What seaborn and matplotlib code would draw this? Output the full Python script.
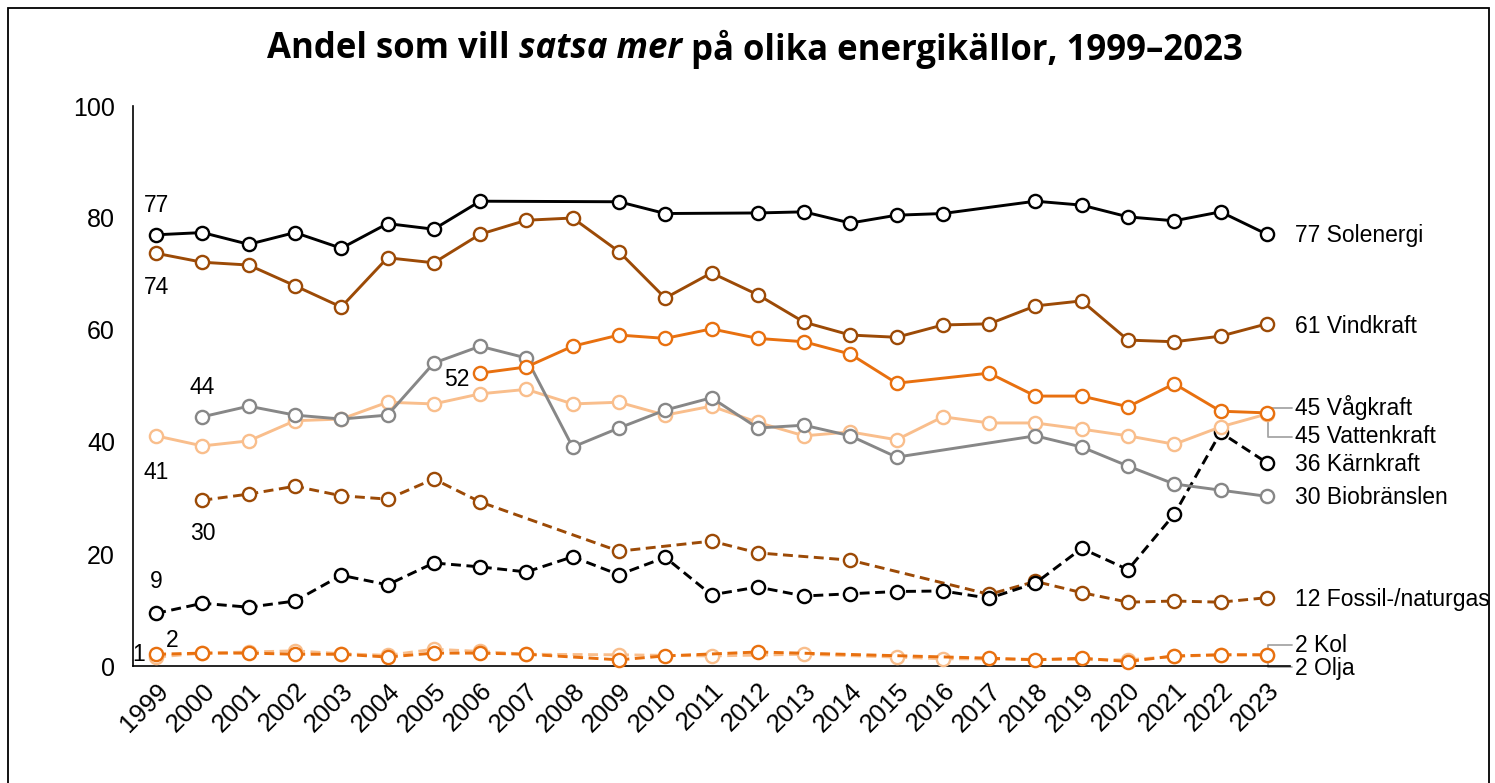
import numpy as np
import pandas as pd
import matplotlib
matplotlib.use("Agg")
import matplotlib.pyplot as plt
from matplotlib.patches import Rectangle
import seaborn as sns

nan = np.nan
years = list(range(1999, 2024))

solenergi = [77.0, 77.4, 75.3, 77.4, 74.6, 79.0, 78.0, 83.0, nan, nan, 82.9, 80.8, nan,
             80.9, 81.1, 79.1, 80.5, 80.8, nan, 83.0, 82.3, 80.2, 79.5, 81.1, 77.1]
vindkraft = [73.7, 72.1, 71.6, 67.9, 64.1, 72.9, 72.0, 77.1, 79.6, 80.0, 74.0, 65.7, 70.2,
             66.3, 61.4, 59.1, 58.7, 60.9, 61.1, 64.3, 65.2, 58.2, 57.9, 58.9, 61.1]
vagkraft = [nan, nan, nan, nan, nan, nan, nan, 52.3, 53.4, 57.1, 59.1, 58.5, 60.2,
            58.5, 57.9, 55.7, 50.5, nan, 52.3, 48.2, 48.2, 46.3, 50.4, 45.5, 45.2]
vattenkraft = [41.1, 39.3, 40.2, 43.8, 44.1, 47.1, 46.8, 48.6, 49.4, 46.8, 47.1, 44.8, 46.4,
               43.5, 41.1, 41.8, 40.4, 44.5, 43.4, 43.4, 42.3, 41.1, 39.6, 42.7, 45.0]
biobranslen = [nan, 44.5, 46.4, 44.8, 44.1, 44.8, 54.1, 57.1, 55.0, 39.1, 42.5, 45.7, 47.9,
               42.5, 43.0, 41.1, 37.3, nan, nan, 41.1, 39.1, 35.7, 32.5, 31.4, 30.3]
karnkraft = [9.4, 11.2, 10.5, 11.6, 16.2, 14.5, 18.4, 17.7, 16.8, 19.5, 16.3, 19.4, 12.7,
             14.1, 12.5, 12.9, 13.3, 13.4, 12.1, 14.8, 21.0, 17.2, 27.1, 41.7, 36.3]
fossil = [nan, 29.6, 30.7, 32.1, 30.4, 29.8, 33.4, 29.3, nan, nan, 20.5, nan, 22.3,
          20.2, nan, 18.9, nan, nan, 12.8, 15.1, 13.1, 11.4, 11.6, 11.4, 12.2]
kol = [2.1, 2.3, 2.3, 2.1, 2.1, 1.6, 2.3, 2.3, 2.1, nan, 1.1, 1.8, nan,
       2.5, nan, nan, nan, nan, 1.4, 1.1, 1.4, 0.8, 1.8, 2.0, 2.0]
olja = [1.6, 2.3, 2.5, 2.7, 2.2, 1.9, 3.0, 2.6, 2.1, nan, 2.0, nan, 1.8,
        nan, 2.1, nan, 1.6, 1.3, nan, nan, nan, 1.1, 1.7, 2.0, 2.0]

names = ["Solenergi", "Vindkraft", "Vågkraft", "Vattenkraft", "Kärnkraft",
         "Biobränslen", "Fossil-/naturgas", "Kol", "Olja"]
end_labels = ["77 Solenergi", "61 Vindkraft", "45 Vågkraft", "45 Vattenkraft",
              "36 Kärnkraft", "30 Biobränslen", "12 Fossil-/naturgas", "2 Kol", "2 Olja"]
start_labels = ["77", "74", "52", "41", "9", "44", "30", "2", "1"]

BLACK = "#000000"
BROWN = "#9C4A06"
ORANGE = "#E8700F"
PEACH = "#F9BE8C"
GRAY = "#878787"

sns.set_style("white")
plt.rcParams["font.family"] = ["Liberation Sans", "DejaVu Sans"]
plt.rcParams["text.color"] = "black"

fig = plt.figure(figsize=(14.95, 7.83), dpi=100)
ax = fig.add_axes([133 / 1495, 1 - 666 / 783, (1290 - 133) / 1495, (666 - 106) / 783])

series = [
    # (values, color, dashed, zorder)
    (olja, PEACH, True, 3),
    (kol, ORANGE, True, 4),
    (fossil, BROWN, True, 5),
    (karnkraft, BLACK, True, 6),
    (vattenkraft, PEACH, False, 7),
    (biobranslen, GRAY, False, 8),
    (vagkraft, ORANGE, False, 9),
    (vindkraft, BROWN, False, 10),
    (solenergi, BLACK, False, 11),
]

for vals, col, dashed, z in series:
    df = pd.DataFrame({"year": years, "value": vals}).dropna()
    sns.lineplot(data=df, x="year", y="value", ax=ax, color=col,
                 linestyle=(0, (3.4, 1.9)) if dashed else "-",
                 linewidth=2.1, marker="o", markersize=9.5,
                 markerfacecolor="white", markeredgecolor=col,
                 markeredgewidth=1.7, zorder=z, clip_on=False)

ax.set_xlim(1998.5, 2023.5)
ax.set_ylim(0, 100)
ax.set_xticks(years)
ax.set_xticklabels([str(y) for y in years], rotation=45, ha="right",
                   rotation_mode="anchor", fontsize=18.5)
ax.set_yticks(range(0, 101, 20))
ax.set_yticklabels([str(v) for v in range(0, 101, 20)], fontsize=18)
ax.set_xlabel("")
ax.set_ylabel("")
for s in ["top", "right"]:
    ax.spines[s].set_visible(False)
for s in ["left", "bottom"]:
    ax.spines[s].set_color("black")
    ax.spines[s].set_linewidth(1.2)
ax.tick_params(axis="both", direction="out", length=5, width=1.2, color="black",
               labelcolor="black")
ax.tick_params(axis="x", pad=4)
ax.tick_params(axis="y", pad=8)

# start labels
start_pos = [(1999, 82.3), (1999, 67.6), (2005.5, 51.1), (1999, 34.6), (1999, 15.0),
             (2000, 49.8), (2000, 23.6), (1999.35, 4.6), (1998.62, 2.0)]
for txt, (x, y) in zip(start_labels, start_pos):
    ax.text(x, y, txt, ha="center", va="center", fontsize=16.5, color="black",
            clip_on=False, zorder=20)

# end labels
end_y = [76.8, 60.7, 46.1, 40.9, 35.9, 30.0, 11.8, 3.7, -0.4]
for txt, y in zip(end_labels, end_y):
    ax.text(2023.6, y, txt, ha="left", va="center", fontsize=16.5, color="black",
            clip_on=False, zorder=20)

# bracket connectors
for ytop, ybot in [(46.1, 40.9), (3.7, -0.1)]:
    ax.plot([2023.55, 2023.03, 2023.03, 2023.55], [ytop, ytop, ybot, ybot],
            color="#A6A6A6", linewidth=1.3, clip_on=False, zorder=2)

# title pieces
renderer = fig.canvas.get_renderer()
parts = [("Andel som vill ", "normal"), ("satsa mer", "italic"),
         (" på olika energikällor, 1999–2023", "normal")]
ty = 1 - 49 / 783
tmp = []
for s, st in parts:
    t = fig.text(0, ty, s, fontsize=25, fontweight="bold", style=st, color="black",
                 family=["Open Sans", "DejaVu Sans"], va="center", ha="left")
    tmp.append(t)
widths = [t.get_window_extent(renderer).width for t in tmp]
total = sum(widths)
x0 = 755 - total / 2
for t, w in zip(tmp, widths):
    t.set_x(x0 / 1495)
    x0 += w

fig.patches.append(Rectangle((8 / 1495, -0.02), (1489 - 8) / 1495, 1 - 8 / 783 + 0.02,
                             transform=fig.transFigure, fill=False,
                             edgecolor="black", linewidth=1.3))

fig.savefig("out.png", dpi=100)
